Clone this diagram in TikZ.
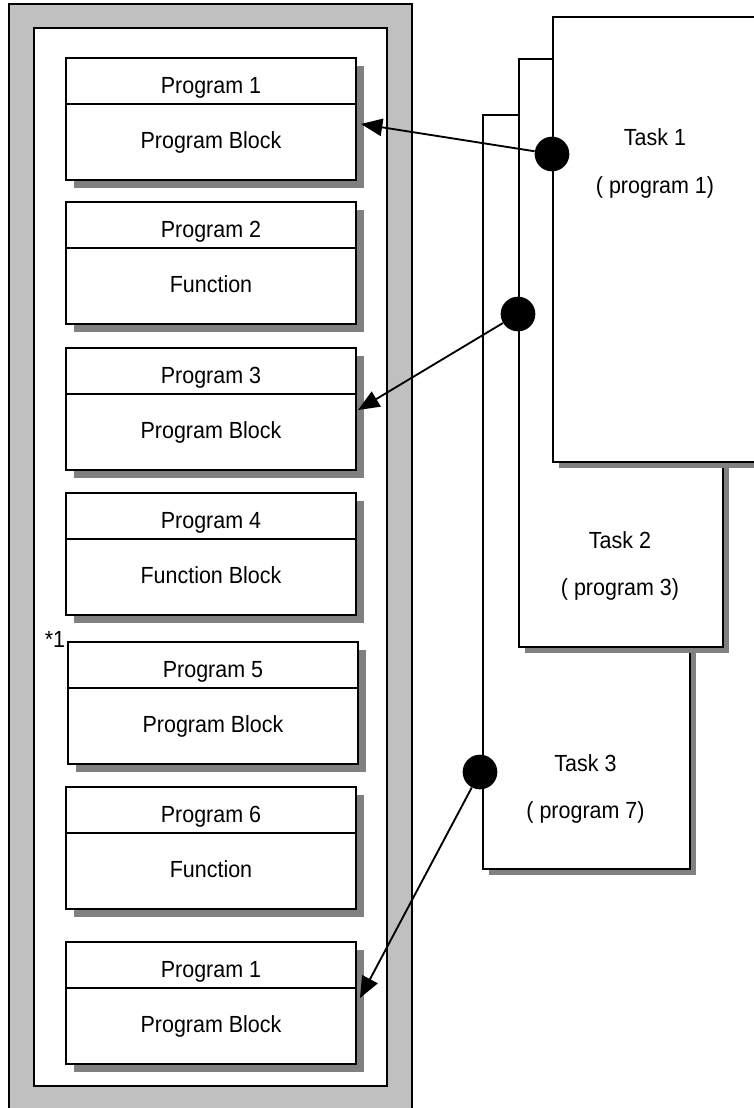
\documentclass[tikz,border=0pt]{standalone}
\usepackage{fontspec}
\setmainfont[FakeStretch=0.92]{Liberation Sans}
\usetikzlibrary{shadows,arrows.meta,calc}
\definecolor{panelgray}{HTML}{C0C0C0}
\definecolor{shadowgray}{HTML}{808080}
\tikzset{
  lw/.style={line width=1.4pt},
  panel/.style={draw, lw},
  pbox/.style={draw, fill=white, lw, inner sep=0pt,
    minimum width=290*0.75pt, minimum height=122*0.75pt,
    drop shadow={shadow xshift=6pt, shadow yshift=-6pt, fill=shadowgray, opacity=1}},
  tbox/.style={draw, fill=white, lw, inner sep=0pt,
    drop shadow={shadow xshift=4.5pt, shadow yshift=-4.5pt, fill=shadowgray, opacity=1}},
  txt/.style={font=\fontsize{17.5}{21}\selectfont, inner sep=0pt, anchor=base},
  dot/.style={circle, fill=black, inner sep=0pt, minimum size=26pt},
  arr/.style={lw, -{Triangle[length=16pt,width=13pt]}},
}
\newcommand\progbox[5]{%
  \node[pbox, anchor=north] (#1) at (#2,#3) {};
  \draw[lw] ($(#1.north west)+(0,47)$) -- ($(#1.north east)+(0,47)$);
  \node[txt] at ($(#1.north)+(0,36)$) {#4};
  \node[txt] at ($(#1.north)+(0,91)$) {#5};
}
\begin{document}
\begin{tikzpicture}[x=0.75pt,y=-0.75pt]
\useasboundingbox (0,0) rectangle (754,1108);
\clip (0,0) rectangle (754,1108);
% panels
\draw[panel, fill=panelgray] (9,4) rectangle (412,1140);
\draw[panel, fill=white] (34,28) rectangle (387,1086);
% program boxes
\progbox{p1}{211}{57}{Program 1}{Program Block}
\progbox{p2}{211}{201}{Program 2}{Function}
\progbox{p3}{211}{347}{Program 3}{Program Block}
\progbox{p4}{211}{492}{Program 4}{Function Block}
\progbox{p5}{213}{641}{Program 5}{Program Block}
\progbox{p6}{211}{786}{Program 6}{Function}
\progbox{p7}{211}{941}{Program 1}{Program Block}
\node[txt] (star) at (55,647) {*1};
% task boxes
\node[tbox, anchor=north west, minimum width=207*0.75pt, minimum height=754*0.75pt] (t3) at (482,114) {};
\node[tbox, anchor=north west, minimum width=204*0.75pt, minimum height=588*0.75pt] (t2) at (518,58) {};
\node[tbox, anchor=north west, minimum width=206*0.75pt, minimum height=445*0.75pt] (t1) at (552,16) {};
\node[txt] at (655,145) {Task 1};
\node[txt] at (655,193) {( program 1)};
\node[txt] at (620,548) {Task 2};
\node[txt] at (620,595) {( program 3)};
\node[txt] at (585.5,771) {Task 3};
\node[txt] at (585.5,818) {( program 7)};
% dots
\node[dot] (d1) at (552,154) {};
\node[dot] (d2) at (518,314) {};
\node[dot] (d3) at (480,772) {};
% arrow ends
\coordinate (e1) at (361,124);
\coordinate (e2) at (358,410);
\coordinate (e3) at (360,998);
\draw[arr] (d1) -- (e1);
\draw[arr] (d2) -- (e2);
\draw[arr] (d3) -- (e3);
\end{tikzpicture}
\end{document}
